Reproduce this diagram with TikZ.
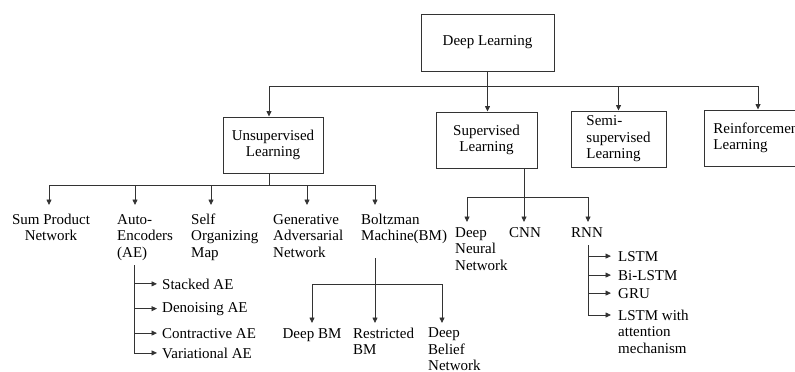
\documentclass[tikz,border=0pt]{standalone}
\usepackage{fontspec}
\setmainfont{Liberation Serif}
\usetikzlibrary{arrows.meta,calc}
\definecolor{ink}{HTML}{333333}
\tikzset{
  txt/.style={font=\fontsize{15}{16.5}\selectfont, text=black},
  box/.style={txt, draw=ink, line width=1pt, inner sep=0pt, align=center},
  % multi-line labels: the base anchor sits on the last line
  lbl/.style={txt, inner sep=0pt, align=left, anchor=base west},
  clbl/.style={txt, inner sep=0pt, align=center, anchor=base},
  link/.style={draw=ink, line width=0.8pt},
  arr/.style={link, -{Triangle[length=5.5pt,width=5pt]}},
}
\begin{document}
\begin{tikzpicture}[x=1pt,y=-1pt]
\useasboundingbox (0,0) rectangle (795,372);
\clip (0,0) rectangle (795,372);

% top level
\node[box, minimum width=133pt, minimum height=57pt] (dl) at (487.5,42.5) {Deep Learning};
\node[box, minimum width=100pt, minimum height=56pt] (unsup) at (273,145) {Unsupervised\\Learning};
\node[box, minimum width=101pt, minimum height=56pt] (sup) at (486.5,140) {Supervised\\Learning};
\node[box, align=left, minimum width=95pt, minimum height=56pt] (semi) at (618.5,139) {Semi-\\supervised\\Learning};
\node[box, align=left, minimum width=108pt, minimum height=56pt] (reinf) at (758,138) {Reinforcement\\Learning};

\coordinate (dlj) at (487.5,86);
\coordinate (uj) at (269,185);
\draw[link] (dl.south) -- (dlj);
\draw[arr] (dlj) -- (sup.north -| dlj);
\draw[arr] (dlj) -| (unsup.north -| uj);
\draw[arr] (dlj) -| (semi.north);
\draw[arr] (dlj) -| (reinf.north);

% unsupervised branch
\node[clbl] (spn) at (51,240.5) {Sum Product\\Network};
\node[lbl] (ae) at (117,257) {Auto-\\Encoders\\(AE)};
\node[lbl] (som) at (191,257) {Self\\Organizing\\Map};
\node[lbl] (gan) at (273,257) {Generative\\Adversarial\\Network};
\node[lbl] (bm) at (361,240.5) {Boltzman\\Machine(BM)};
\coordinate (spnN) at (49,205);
\coordinate (aeN) at (135,205);
\coordinate (somN) at (211,205);
\coordinate (ganN) at (307,205);
\coordinate (bmN) at (375,205);
\draw[link] (unsup.south -| uj) -- (uj);
\draw[arr] (uj) -| (spnN);
\draw[arr] (uj) -| (aeN);
\draw[arr] (uj) -| (somN);
\draw[arr] (uj) -| (ganN);
\draw[arr] (uj) -| (bmN);

% auto-encoder variants
\coordinate (aeT) at (134,265);
\node[lbl] (sae) at (162,289) {Stacked AE};
\node[lbl] (dae) at (162,312) {Denoising AE};
\node[lbl] (cae) at (162,338) {Contractive AE};
\node[lbl] (vae) at (162,358) {Variational AE};
\draw[arr, shorten >=5pt] (sae.west -| aeT) -- (sae.west);
\draw[arr, shorten >=5pt] (dae.west -| aeT) -- (dae.west);
\draw[arr, shorten >=5pt] (cae.west -| aeT) -- (cae.west);
\draw[arr, shorten >=5pt] (aeT) |- (vae.west);

% Boltzmann machine variants
\coordinate (bmT) at (375,258);
\coordinate (bmJ) at (375,284);
\node[clbl] (dbm) at (312,338) {Deep BM};
\node[lbl] (rbm) at (353,354.5) {Restricted\\BM};
\node[lbl] (dbn) at (428,370.5) {Deep\\Belief\\Network};
\coordinate (dbmN) at (312,323);
\coordinate (rbmN) at (375,323);
\coordinate (dbnN) at (442,323);
\draw[link] (bmT) -- (bmJ);
\draw[arr] (bmJ) -- (rbmN);
\draw[arr] (bmJ) -| (dbmN);
\draw[arr] (bmJ) -| (dbnN);

% supervised branch
\coordinate (sj) at (524,197);
\node[lbl] (dnn) at (455,270) {Deep\\Neural\\Network};
\node[clbl] (cnn) at (525,237) {CNN};
\node[clbl] (rnn) at (587,237) {RNN};
\coordinate (dnnN) at (467,222);
\coordinate (cnnN) at (524,222);
\coordinate (rnnN) at (588,222);
\draw[link] (sup.south -| sj) -- (sj);
\draw[arr] (sj) -| (dnnN);
\draw[arr] (sj) -- (cnnN);
\draw[arr] (sj) -| (rnnN);

% recurrent variants
\coordinate (rnnT) at (588,245);
\node[lbl] (lstm) at (618,261) {LSTM};
\node[lbl] (bilstm) at (618,280) {Bi-LSTM};
\node[lbl] (gru) at (618,298) {GRU};
\node[lbl] (lstma) at (618,353) {LSTM with\\attention\\mechanism};
\draw[arr, shorten >=7pt] (lstm.west -| rnnT) -- (lstm.west);
\draw[arr, shorten >=7pt] (bilstm.west -| rnnT) -- (bilstm.west);
\draw[arr, shorten >=7pt] (gru.west -| rnnT) -- (gru.west);
\draw[arr, shorten >=7pt] (rnnT) |- ($(lstma.base west)+(0,-38)$);
\end{tikzpicture}
\end{document}
